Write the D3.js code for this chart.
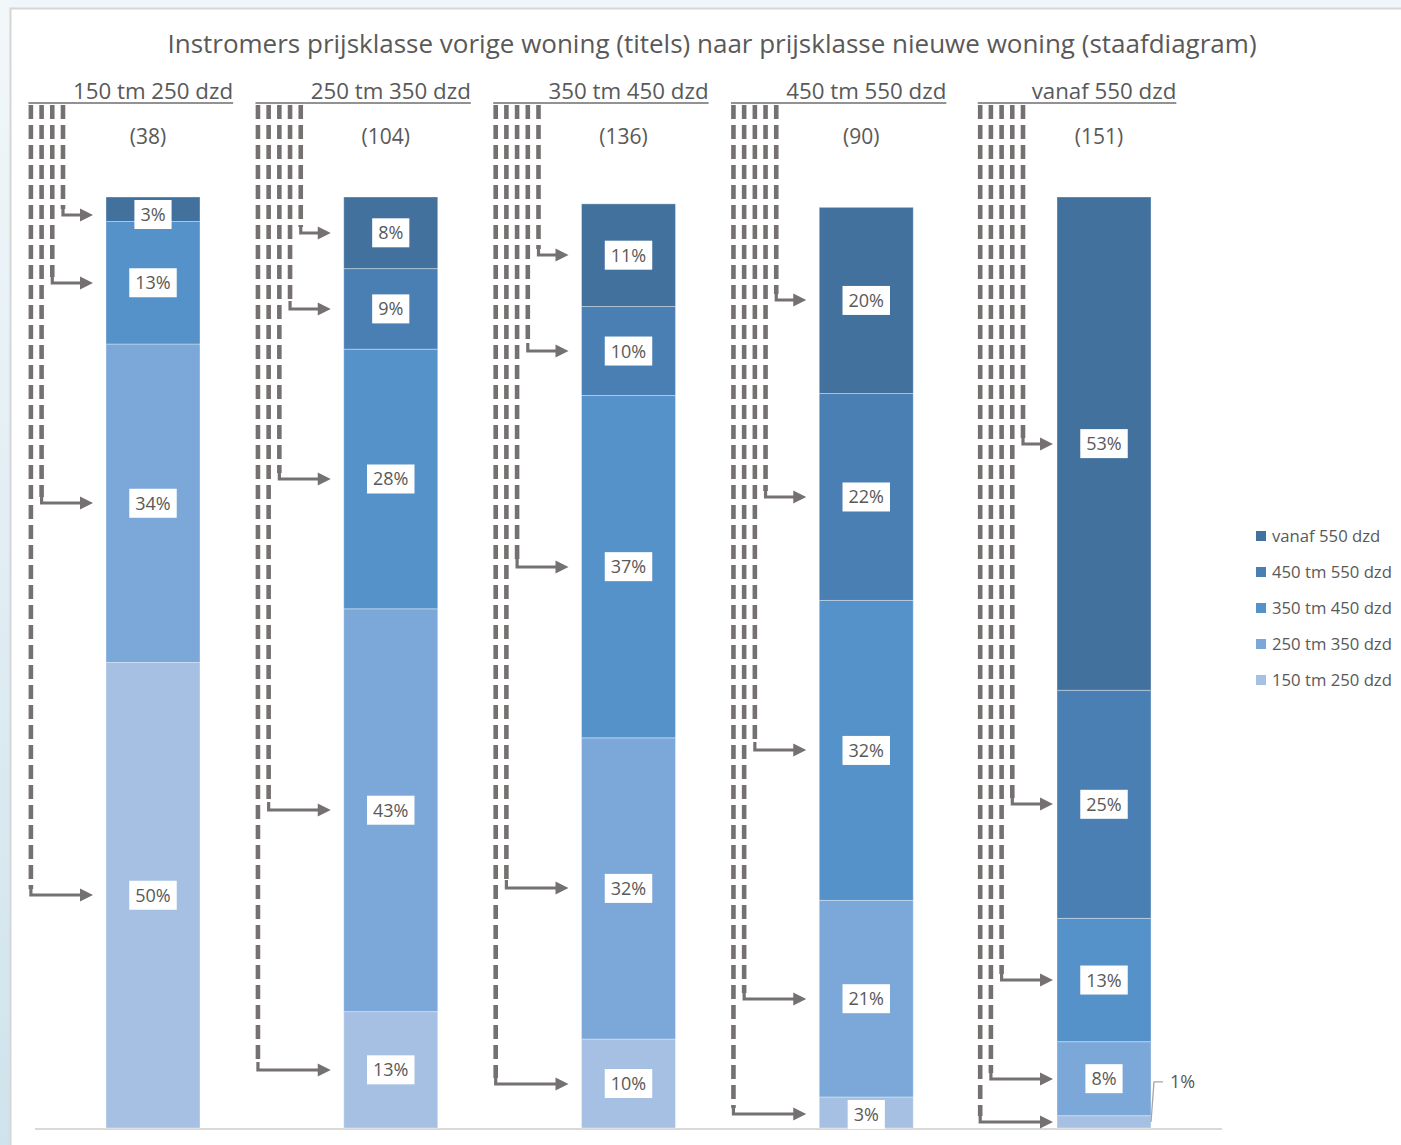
<!DOCTYPE html>
<html>
<head>
<meta charset="utf-8">
<script src="https://cdn.jsdelivr.net/npm/d3@7"></script>
<style>
  html, body { margin: 0; padding: 0; background: #F1F6FA; }
  svg { display: block; }
  text { font-family: "Open Sans", Lato, sans-serif; fill: #595959; }
</style>
</head>
<body>
<svg id="chart" width="1401" height="1145"></svg>
<script>
// Previous home price class (one column per class, shown as titles)
const previousClasses = ["150 tm 250 dzd", "250 tm 350 dzd", "350 tm 450 dzd", "450 tm 550 dzd", "vanaf 550 dzd"];
// Number of movers per previous class (shown in brackets)
const previousTotals = [38, 104, 136, 90, 151];

// New home price class (stack segments, bottom to top)
const newClasses = ["150 tm 250 dzd", "250 tm 350 dzd", "350 tm 450 dzd", "450 tm 550 dzd", "vanaf 550 dzd"];

// Movers per new class, one value per previous class
const new150to250 = [19, 13, 13, 3, 2];
const new250to350 = [13, 45, 44, 19, 12];
const new350to450 = [5, 29, 50, 29, 20];
const new450to550 = [0, 9, 13, 20, 37];
const newFrom550  = [1, 8, 15, 18, 80];

const countsByNewClass = [new150to250, new250to350, new350to450, new450to550, newFrom550];

// ---- layout & styling ----
const W = 1401, H = 1145;
const baseY = 1128, topY = 197;
const axisLeft = 35, axisRight = 1222;
const colours = ["#A5C0E3", "#7BA8D8", "#5592CA", "#4A7FB4", "#41719C"];
const lineGray = "#767171";
const connectorShift = [0, 0, 0, 0, 9];   // nudges the arrow bundle of a column sideways
const connectorTop = 105;
const connectorStep = 10.7;
const labelBoxH = 29;

const svg = d3.select("#chart");

// page background and chart panel
const defs = svg.append("defs");
const grad = defs.append("linearGradient").attr("id", "sideGrad")
  .attr("x1", 0).attr("y1", 0).attr("x2", 0).attr("y2", 1);
grad.append("stop").attr("offset", 0).attr("stop-color", "#F2F7FA");
grad.append("stop").attr("offset", 1).attr("stop-color", "#CFE3EC");
svg.append("rect").attr("width", W).attr("height", H).attr("fill", "#F1F6FA");
svg.append("rect").attr("x", 0).attr("y", 0).attr("width", 11).attr("height", H).attr("fill", "url(#sideGrad)");
svg.append("rect").attr("x", 10.5).attr("y", 8.5).attr("width", W + 20).attr("height", H + 20)
  .attr("fill", "#fff").attr("stroke", "#D6D6D6").attr("stroke-width", 2);

// table for the stack layout: one row per previous class, shares per new class
const table = previousClasses.map((g, i) => {
  const row = { group: g, total: previousTotals[i] };
  newClasses.forEach((c, k) => { row[c] = countsByNewClass[k][i] / previousTotals[i]; });
  return row;
});

const series = d3.stack().keys(newClasses)(table);

const x = d3.scaleBand().domain(previousClasses)
  .range([axisLeft, axisRight]).paddingInner(0.6046).paddingOuter(0.2986);
const y = d3.scaleLinear().domain([0, 1]).range([baseY, topY]);
const colour = d3.scaleOrdinal().domain(newClasses).range(colours);

// title
svg.append("text")
  .attr("x", 712).attr("y", 53)
  .attr("text-anchor", "middle")
  .style("font-size", "26px")
  .text("Instromers prijsklasse vorige woning (titels) naar prijsklasse nieuwe woning (staafdiagram)");

// baseline
svg.append("line")
  .attr("x1", axisLeft).attr("x2", axisRight)
  .attr("y1", baseY + 1).attr("y2", baseY + 1)
  .attr("stroke", "#D9D9D9").attr("stroke-width", 2);

// bars
svg.append("g").selectAll("g")
  .data(series).join("g")
  .attr("fill", d => colour(d.key))
  .selectAll("rect")
  .data(d => d.filter(s => s[1] - s[0] > 0))
  .join("rect")
  .attr("x", d => x(d.data.group))
  .attr("y", d => y(d[1]))
  .attr("width", x.bandwidth())
  .attr("height", d => y(d[0]) - y(d[1]))
  .attr("stroke", "#fff").attr("stroke-opacity", 0.35).attr("stroke-width", 1);

// per column: header, count, connector arrows and value labels
previousClasses.forEach((g, i) => {
  const left = x(g);
  const cx = left + x.bandwidth() / 2;
  const segs = series.map(s => ({ key: s.key, v0: s[i][0], v1: s[i][1] }))
    .filter(s => s.v1 - s.v0 > 0)
    .reverse(); // top segment first
  const n = segs.length;
  const lastX = left - 43 + connectorShift[i];
  const tipX = left - 13 + connectorShift[i];
  const firstX = lastX - (n - 1) * connectorStep;

  // header with underline reaching back over the connector bundle
  const head = svg.append("text")
    .attr("x", cx).attr("y", 99)
    .attr("text-anchor", "middle")
    .style("font-size", "22.3px")
    .text(g);
  const tw = head.node().getComputedTextLength();
  svg.append("line")
    .attr("x1", firstX - 2.5).attr("x2", cx + tw / 2)
    .attr("y1", 103).attr("y2", 103)
    .attr("stroke", "#6E6E6E").attr("stroke-width", 1.6);

  svg.append("text")
    .attr("x", cx - 5).attr("y", 144)
    .attr("text-anchor", "middle")
    .style("font-size", "21px")
    .text(`(${previousTotals[i]})`);

  segs.forEach((s, k) => {
    const lx = lastX - k * connectorStep;
    const mid = (y(s.v0) + y(s.v1)) / 2;
    const segH = y(s.v0) - y(s.v1);
    const inside = segH >= 20;
    // labels that fit are kept inside the bar; the arrow points at the label
    const cy = inside
      ? Math.max(y(s.v1) + 3 + labelBoxH / 2, Math.min(mid, baseY - labelBoxH / 2))
      : mid;
    const ay = Math.round(cy);
    // dashed riser
    svg.append("line")
      .attr("x1", lx).attr("x2", lx)
      .attr("y1", connectorTop).attr("y2", ay - 6)
      .attr("stroke", lineGray).attr("stroke-width", 4.6)
      .attr("stroke-dasharray", "14,6");
    // elbow and shaft
    svg.append("path")
      .attr("d", `M${lx},${ay - 8}V${ay}H${tipX - 11}`)
      .attr("fill", "none").attr("stroke", lineGray).attr("stroke-width", 3.2);
    // arrow head
    svg.append("path")
      .attr("d", `M${tipX},${ay}L${tipX - 13},${ay - 6.5}L${tipX - 13},${ay + 6.5}Z`)
      .attr("fill", lineGray);

    // value label
    const pct = Math.round((s.v1 - s.v0) * 100) + "%";
    if (inside) {
      const lg = svg.append("g");
      const t = lg.append("text")
        .attr("x", cx).attr("y", cy + 6.5)
        .attr("text-anchor", "middle")
        .style("font-size", "18px")
        .text(pct);
      const w = t.node().getComputedTextLength() + 12;
      lg.insert("rect", "text")
        .attr("x", cx - w / 2).attr("y", cy - labelBoxH / 2)
        .attr("width", w).attr("height", labelBoxH)
        .attr("fill", "#fff");
    } else {
      const right = left + x.bandwidth();
      const ly = mid - 40;
      svg.append("path")
        .attr("d", `M${right},${mid}L${right + 3},${ly}H${right + 12}`)
        .attr("fill", "none").attr("stroke", "#A6A6A6").attr("stroke-width", 1.3);
      svg.append("text")
        .attr("x", right + 19).attr("y", ly + 6.5)
        .style("font-size", "18px")
        .text(pct);
    }
  });
});

// legend, darkest class on top
const legend = svg.append("g").attr("transform", "translate(1256,536)");
newClasses.slice().reverse().forEach((c, k) => {
  const row = legend.append("g").attr("transform", `translate(0,${k * 36})`);
  row.append("rect").attr("x", 0).attr("y", -5).attr("width", 10).attr("height", 10).attr("fill", colour(c));
  row.append("text").attr("x", 16).attr("y", 5.8).style("font-size", "16.7px").text(c);
});
</script>
</body>
</html>
